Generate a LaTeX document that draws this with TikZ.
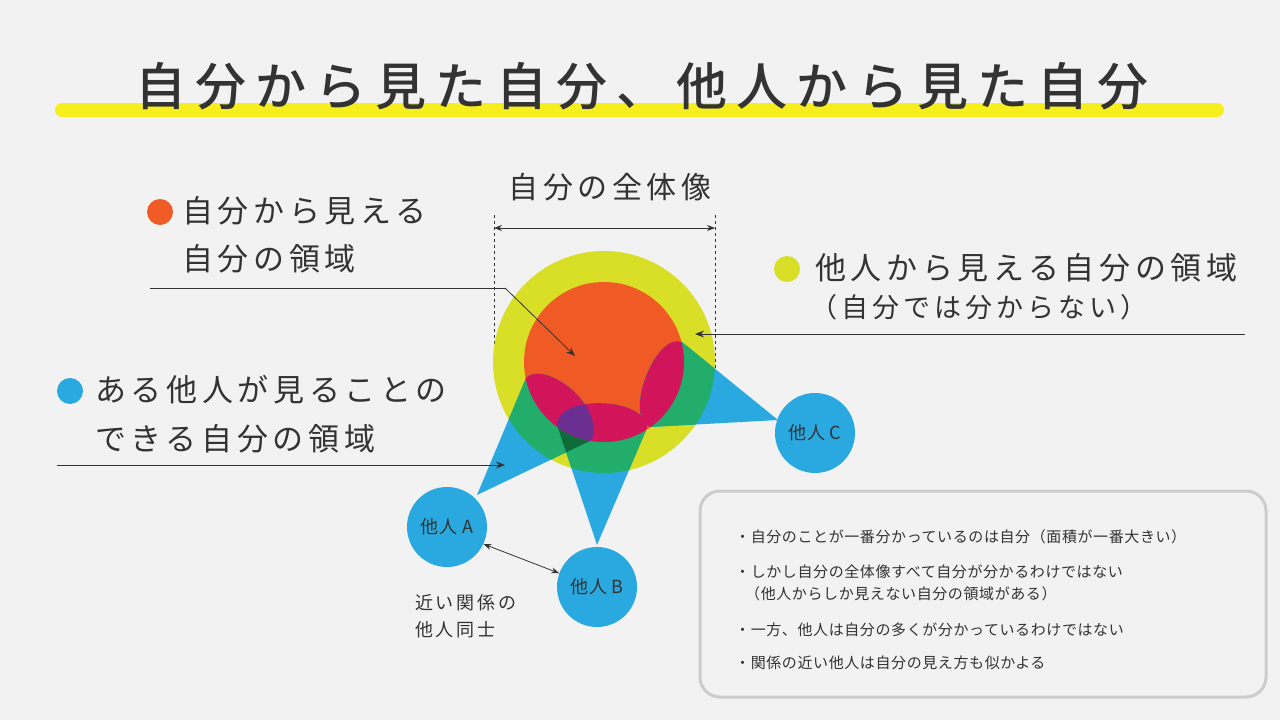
\documentclass[tikz,border=0pt]{standalone}
\usepackage{fontspec}
\newfontfamily\jp[LetterSpace=15]{Noto Sans CJK JP}
\newfontfamily\jps[LetterSpace=4]{Noto Sans CJK JP}
\newfontfamily\jpt[LetterSpace=18]{Noto Sans CJK JP Medium}
\usetikzlibrary{arrows.meta}
\definecolor{bg}{HTML}{F2F2F2}
\definecolor{txt}{HTML}{333333}
\definecolor{yel}{HTML}{D9DE26}
\definecolor{bar}{HTML}{F7EE1E}
\definecolor{org}{HTML}{F05A24}
\definecolor{blu}{HTML}{29A9E0}
\definecolor{grn}{HTML}{22AD6B}
\definecolor{crm}{HTML}{D2145A}
\definecolor{pur}{HTML}{6B2E91}
\definecolor{dgr}{HTML}{0E6B3A}
\tikzset{
 lbl/.style={anchor=west,inner sep=0,text=txt,font=\jp\fontsize{31}{36}\selectfont},
 small/.style={anchor=west,inner sep=0,text=txt,font=\jps\fontsize{15}{18}\selectfont},
 person/.style={circle,fill=blu,minimum size=80pt,inner sep=0,text=txt,font=\jps\fontsize{18}{20}\selectfont},
 ptr/.style={draw=txt,line width=0.8pt,-{Stealth[length=9pt,width=7pt]}},
}
\def\coneA{(477,495) -- (526,378) .. controls (542,360) and (604,401) .. (592,440) -- cycle}
\def\coneB{(597,545) -- (557,425) .. controls (557,394) and (647,397) .. (647,428) -- cycle}
\def\coneC{(778,420) -- (682,342) .. controls (655,332) and (623,417) .. (650,427) -- cycle}
\begin{document}
\begin{tikzpicture}[x=1pt,y=-1pt]
\fill[bg] (0,0) rectangle (1280,720);
\useasboundingbox (0,0) rectangle (1280,720);
% title
\draw[bar,line width=14pt,line cap=round] (62,110) -- (1217,110);
\node[inner sep=0,text=txt,font=\jpt\fontsize{51}{56}\selectfont] (title) at (642,86) {自分から見た自分、他人から見た自分};
% dimension
\node[inner sep=0,text=txt,font=\jp\fontsize{30}{34}\selectfont] (whole) at (610,187) {自分の全体像};
\coordinate (dl) at (494,228); \coordinate (dr) at (715,228);
\draw[txt,line width=0.8pt,dashed] (494,215) -- (494,370) (715,215) -- (715,370);
\draw[txt,line width=0.8pt,{Stealth[length=8pt,width=6pt]}-{Stealth[length=8pt,width=6pt]}] (dl) -- (dr);
% circles
\fill[yel] (604,362) circle (111);
\fill[org] (604,362) circle (80);
\fill[blu] \coneA; \fill[blu] \coneB; \fill[blu] \coneC;
\begin{scope}
\clip (604,362) circle (111);
\fill[grn] \coneA; \fill[grn] \coneB; \fill[grn] \coneC;
\begin{scope}\clip \coneA; \fill[dgr] \coneB; \end{scope}
\end{scope}
\begin{scope}
\clip (604,362) circle (80);
\fill[crm] \coneA; \fill[crm] \coneB; \fill[crm] \coneC;
\begin{scope}\clip \coneA; \fill[pur] \coneB; \end{scope}
\end{scope}
\node[person] (pa) at (447,527) {他人 A};
\node[person] (pb) at (597,587) {他人 B};
\node[person] (pc) at (815,433) {他人 C};
\draw[txt,line width=0.8pt,{Stealth[length=8pt,width=6pt]}-{Stealth[length=8pt,width=6pt]}] (pa.-25) -- (pb.160);
\node[small,font=\jp\fontsize{18}{20}\selectfont] (near1) at (415,603) {近い関係の};
\node[small,font=\jp\fontsize{18}{20}\selectfont] (near2) at (415,630) {他人同士};
% legend orange
\fill[org] (160,212) circle (13);
\node[lbl] (o1) at (182,211) {自分から見える};
\node[lbl] (o2) at (182,259) {自分の領域};
\coordinate (oa) at (575,356);
\draw[txt,line width=0.8pt] (150,288) -- (505,288);
\draw[ptr] (505,288) -- (oa);
% legend yellow
\fill[yel] (787,269) circle (13);
\node[lbl] (y1) at (815,268) {他人から見える自分の領域};
\node[lbl,font=\jp\fontsize{27}{30}\selectfont] (y2) at (810,307) {（自分では分からない）};
\coordinate (ya) at (695,334);
\draw[ptr] (1245,334) -- (ya);
% legend blue
\fill[blu] (70,391) circle (13);
\node[lbl] (b1) at (95,390) {ある他人が見ることの};
\node[lbl] (b2) at (95,439) {できる自分の領域};
\coordinate (ba) at (505,465);
\draw[ptr] (57,465) -- (ba);
% box
\draw[draw=black!20,line width=3pt,rounded corners=20pt] (700,491) rectangle (1266,697);
\node[small] (t1) at (735,537) {・自分のことが一番分かっているのは自分（面積が一番大きい）};
\node[small] (t2) at (735,572) {・しかし自分の全体像すべて自分が分かるわけではない};
\node[small] (t3) at (745,594) {（他人からしか見えない自分の領域がある）};
\node[small] (t4) at (735,630) {・一方、他人は自分の多くが分かっているわけではない};
\node[small] (t5) at (735,663) {・関係の近い他人は自分の見え方も似かよる};
\end{tikzpicture}
\end{document}
